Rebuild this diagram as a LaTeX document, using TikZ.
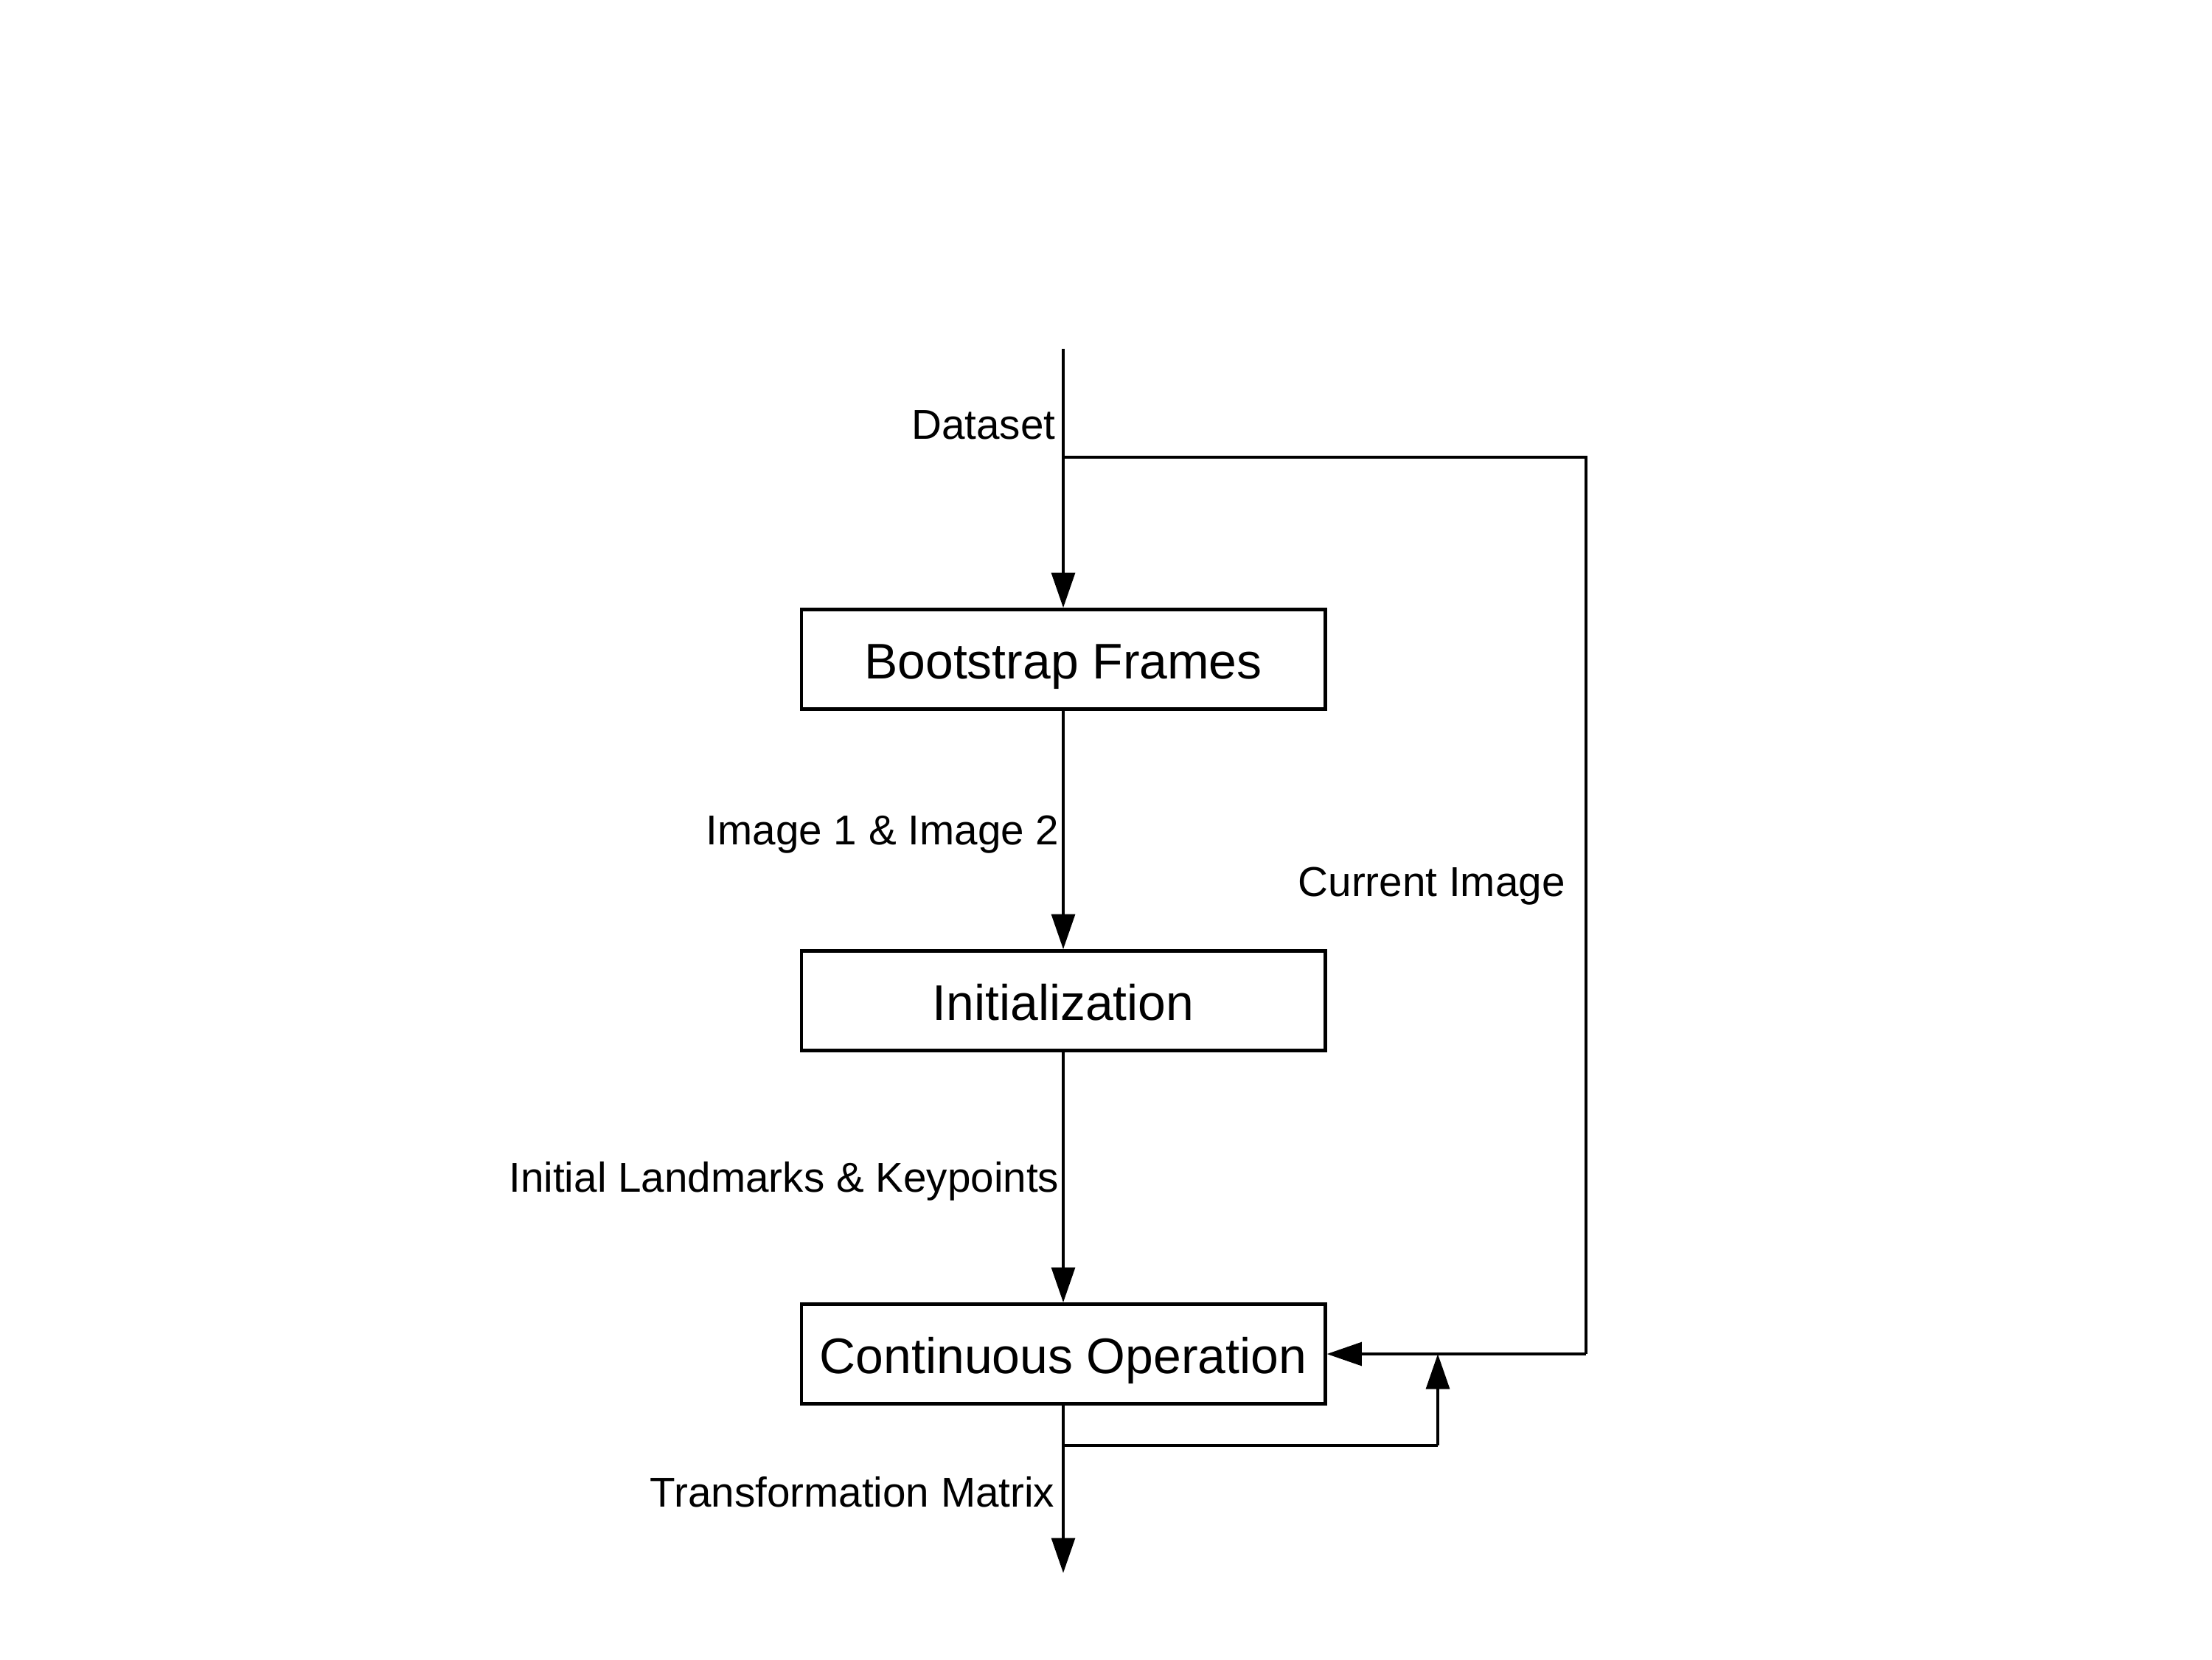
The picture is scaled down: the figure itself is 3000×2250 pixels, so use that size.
\documentclass[tikz,border=0pt]{standalone}
\usepackage{fontspec}
\setmainfont{Liberation Sans}
\usetikzlibrary{arrows.meta}
\begin{document}
\begin{tikzpicture}[x=0.01cm,y=-0.01cm,
  box/.style={draw,line width=1.3pt,minimum width=7.1cm,minimum height=1.35cm,inner sep=0pt,text height=0.52cm,text depth=0pt,font=\fontsize{19.3}{23}\selectfont},
  lbl/.style={inner sep=0pt,font=\fontsize{16.1}{19}\selectfont},
  conn/.style={line width=1.15pt},
  arr/.style={conn,-{Triangle[length=13.5pt,width=9pt]}}]
\useasboundingbox (0,0) rectangle (3000,2250);
\node[box] (boot) at (1442,894) {Bootstrap Frames};
\node[box] (init) at (1442,1357) {Initialization};
\node[box] (cont) at (1442,1836) {Continuous Operation};
\coordinate (top) at (1442,473);
\coordinate (split) at (1442,620);
\coordinate (rt) at (2151,620);
\coordinate (rb) at (2151,1836);
\coordinate (ctap) at (1442,1960);
\coordinate (fb) at (1950,1960);
\coordinate (fbtip) at (1950,1836);
\coordinate (out) at (1442,2133);
\draw[conn] (top) -- (split);
\draw[arr] (split) -- (boot.north);
\draw[conn] (split) -- (rt) -- (rb);
\draw[arr] (rb) -- (cont.east);
\draw[arr] (boot) -- (init);
\draw[arr] (init) -- (cont);
\draw[conn] (cont.south) -- (ctap) -- (fb);
\draw[arr] (fb) -- (fbtip);
\draw[arr] (ctap) -- (out);
\node[lbl,anchor=base east] (l1) at (1432,595) {Dataset};
\node[lbl,anchor=base east] (l2) at (1437,1145) {Image 1 \& Image 2};
\node[lbl,anchor=base west] (l3) at (1760,1215) {Current Image};
\node[lbl,anchor=base east] (l4) at (1437,1616) {Initial Landmarks \& Keypoints};
\node[lbl,anchor=base east] (l5) at (1431,2043) {Transformation Matrix};
\end{tikzpicture}
\end{document}
